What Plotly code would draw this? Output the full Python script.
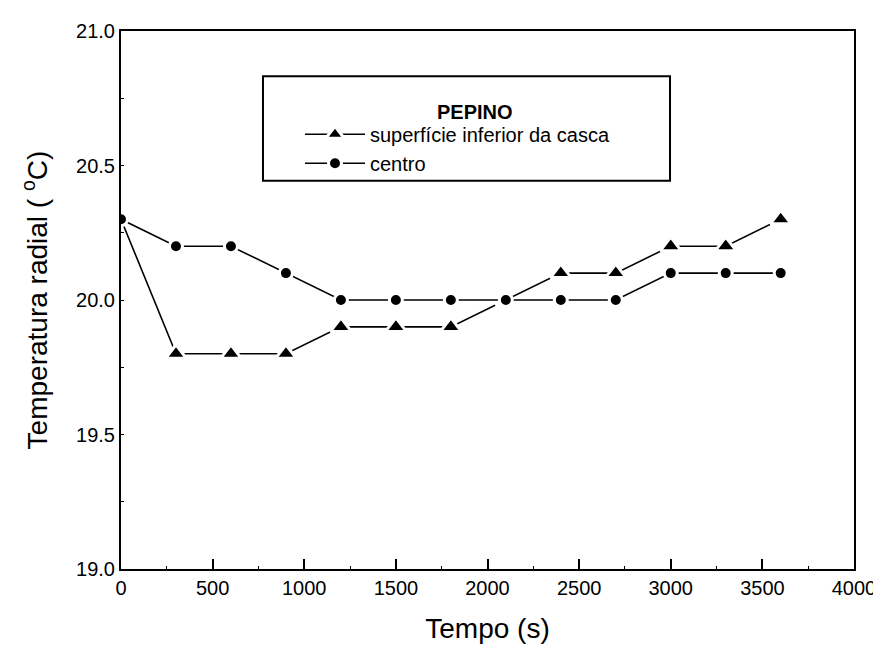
import plotly.graph_objects as go

tempo = [0, 300, 600, 900, 1200, 1500, 1800, 2100, 2400, 2700, 3000, 3300, 3600]
superficie = [20.3, 19.8, 19.8, 19.8, 19.9, 19.9, 19.9, 20.0, 20.1, 20.1, 20.2, 20.2, 20.3]
centro = [20.3, 20.2, 20.2, 20.1, 20.0, 20.0, 20.0, 20.0, 20.0, 20.0, 20.1, 20.1, 20.1]
legend_title = "PEPINO"

FONT = "Liberation Sans, Arial, sans-serif"

fig = go.Figure()
fig.add_trace(go.Scatter(
    x=tempo, y=superficie, mode="lines+markers",
    name="superfície inferior da casca",
    line=dict(color="black", width=1.6),
    marker=dict(symbol="triangle-up", size=18, color="black",
                line=dict(color="white", width=3)),
))
fig.add_trace(go.Scatter(
    x=tempo, y=centro, mode="lines+markers",
    name="centro",
    line=dict(color="black", width=1.6),
    marker=dict(symbol="circle", size=13, color="black",
                line=dict(color="white", width=3)),
))

fig.update_layout(
    width=881, height=650,
    margin=dict(l=113, r=35, t=15, b=89),
    paper_bgcolor="white", plot_bgcolor="white",
    font=dict(family=FONT, color="black", size=20),
    showlegend=True,
    legend=dict(
        x=0.2442, y=0.8443, xanchor="left", yanchor="top",
        borderwidth=0, bgcolor="rgba(0,0,0,0)",
        font=dict(family=FONT, size=20, color="black"),
        itemwidth=60, tracegroupgap=0,
    ),
    shapes=[dict(type="rect", xref="paper", yref="paper",
                 x0=0.1937, x1=0.749, y0=0.7216, y1=0.9158,
                 line=dict(color="black", width=2), fillcolor="white", layer="below")],
    annotations=[dict(text="<b>" + legend_title + "</b>", xref="paper", yref="paper",
                      x=0.483, y=0.8736, showarrow=False,
                      font=dict(family=FONT, size=20, color="black"))],
    xaxis=dict(
        range=[0, 4000], dtick=500, tick0=0,
        showgrid=False, zeroline=False, layer="above traces",
        showline=True, linecolor="black", linewidth=2, mirror=True,
        ticks="inside", ticklen=10, tickwidth=1.5, tickcolor="black",
        minor=dict(dtick=250, ticks="inside", ticklen=3, tickcolor="black", tickwidth=1.2),
        tickfont=dict(family=FONT, size=20),
        title=dict(text="Tempo (s)", font=dict(family=FONT, size=28), standoff=20),
    ),
    yaxis=dict(
        range=[19.0, 21.0], dtick=0.5, tick0=19.0, tickformat=".1f",
        showgrid=False, zeroline=False, layer="above traces",
        showline=True, linecolor="black", linewidth=2, mirror=True,
        ticks="inside", ticklen=3, tickwidth=1.2, tickcolor="black",
        minor=dict(dtick=0.25, ticks="inside", ticklen=3, tickcolor="black", tickwidth=1.2),
        tickfont=dict(family=FONT, size=20),
        title=dict(text="Temperatura radial ( <sup>o</sup>C)", font=dict(family=FONT, size=28), standoff=20),
    ),
    xaxis2=dict(
        range=[0, 4000], overlaying="x", side="top", anchor="y",
        dtick=250, ticks="inside", ticklen=3, tickcolor="black", tickwidth=1.2,
        showticklabels=False, showgrid=False, zeroline=False, showline=False,
    ),
    yaxis2=dict(
        range=[19.0, 21.0], overlaying="y", side="right", anchor="x",
        dtick=0.25, ticks="inside", ticklen=3, tickcolor="black", tickwidth=1.2,
        showticklabels=False, showgrid=False, zeroline=False, showline=False,
    ),
)

fig.write_html("out.html")
